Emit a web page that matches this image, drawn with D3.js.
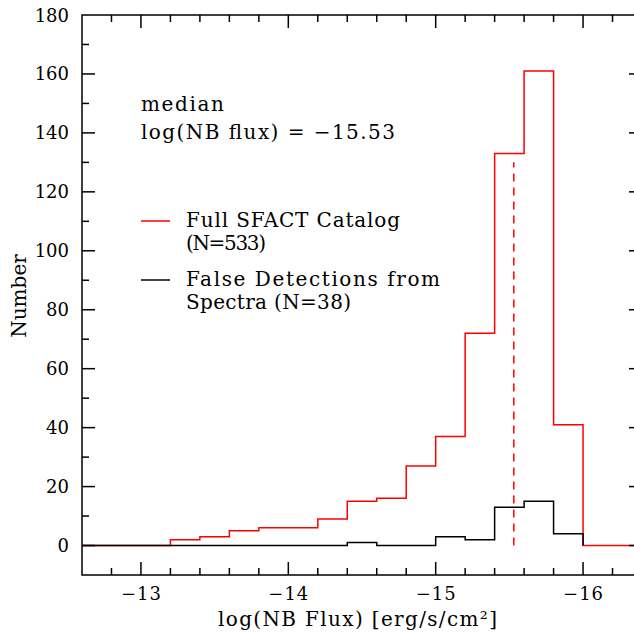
<!DOCTYPE html>
<html>
<head>
<meta charset="utf-8">
<script src="https://cdn.jsdelivr.net/npm/d3@7"></script>
<style>
  html, body { margin: 0; padding: 0; background: #fff; }
  svg { display: block; }
  text { font-family: "DejaVu Serif", "Liberation Serif", serif; fill: #000; }
</style>
</head>
<body>
<svg id="chart" width="634" height="633"></svg>
<script>
// ---- data ----
const binEdges = [-12.6, -12.8, -13.0, -13.2, -13.4, -13.6, -13.8, -14.0, -14.2, -14.4, -14.6, -14.8, -15.0, -15.2, -15.4, -15.6, -15.8, -16.0, -16.2, -16.4];
const fullCatalog = [0, 0, 0, 2, 3, 5, 6, 6, 9, 15, 16, 27, 37, 72, 133, 161, 41, 0, 0];
const falseDetections = [0, 0, 0, 0, 0, 0, 0, 0, 0, 1, 0, 0, 3, 2, 13, 15, 4];
const medianFlux = -15.53;
const medianTop = 130;
const xTicks = [-13, -14, -15, -16];
const yTicks = [0, 20, 40, 60, 80, 100, 120, 140, 160, 180];
const legendLabels = [["Full SFACT Catalog", "(N=533)"], ["False Detections from", "Spectra (N=38)"]];
const seriesColors = ["#ff0000", "#000000"];

// ---- layout ----
const svg = d3.select("#chart");
const mLeft = 82, mRight = 642, mTop = 15, mBottom = 575;
const x = d3.scaleLinear().domain([-12.6, -16.4]).range([mLeft, mRight]);
const y = d3.scaleLinear().domain([-10, 180]).range([mBottom, mTop]);

function stepPath(values) {
  const pts = [];
  pts.push([x(binEdges[0]), y(values[0])]);
  values.forEach((v, i) => {
    pts.push([x(binEdges[i]), y(v)]);
    pts.push([x(binEdges[i + 1]), y(v)]);
  });
  return d3.line()(pts);
}

const plot = svg.append("g");
plot.append("path").attr("d", stepPath(fullCatalog))
  .attr("fill", "none").attr("stroke", seriesColors[0]).attr("stroke-width", 1.5);
plot.append("path").attr("d", stepPath(falseDetections) + "L" + x(binEdges[falseDetections.length]) + "," + y(0))
  .attr("fill", "none").attr("stroke", seriesColors[1]).attr("stroke-width", 1.5);

// median dashed line
plot.append("line")
  .attr("x1", x(medianFlux)).attr("x2", x(medianFlux))
  .attr("y1", y(0)).attr("y2", y(medianTop))
  .attr("stroke", seriesColors[0]).attr("stroke-width", 1.5)
  .attr("stroke-dasharray", "8,6");

// ---- frame & ticks ----
const axG = svg.append("g").attr("stroke", "#000").attr("stroke-width", 1.5);
axG.append("rect").attr("x", mLeft).attr("y", mTop).attr("width", mRight - mLeft).attr("height", mBottom - mTop)
  .attr("fill", "none");

const xMinor = d3.range(1, 19).map(i => -12.6 - 0.2 * i);
xMinor.forEach(v => {
  const isMajor = Math.abs(v - Math.round(v)) < 1e-6;
  const len = isMajor ? 13 : 7;
  axG.append("line").attr("x1", x(v)).attr("x2", x(v)).attr("y1", mBottom).attr("y2", mBottom - len);
  axG.append("line").attr("x1", x(v)).attr("x2", x(v)).attr("y1", mTop).attr("y2", mTop + len);
});
d3.range(0, 18).map(i => 10 * i).forEach(v => {
  const isMajor = v % 20 === 0;
  const len = isMajor ? 13 : 7;
  axG.append("line").attr("x1", mLeft).attr("x2", mLeft + len).attr("y1", y(v)).attr("y2", y(v));
  axG.append("line").attr("x1", mRight).attr("x2", mRight - len).attr("y1", y(v)).attr("y2", y(v));
});

// tick labels
svg.append("g").selectAll("text").data(xTicks).join("text")
  .attr("x", d => x(d) + 0.5).attr("y", 600)
  .attr("text-anchor", "middle").attr("font-size", 18)
  .attr("letter-spacing", 1)
  .text(d => "\u2212" + Math.abs(d));
svg.append("g").selectAll("text").data(yTicks).join("text")
  .attr("x", 69).attr("y", d => y(d) + 6.5)
  .attr("text-anchor", "end").attr("font-size", 18)
  .text(d => d);

// text helper with width fitted to the reference
function label(xp, yp, str, len, size) {
  return svg.append("text").attr("x", xp).attr("y", yp)
    .attr("font-size", size || 20)
    .attr("textLength", len).attr("lengthAdjust", "spacing")
    .text(str);
}

// axis titles
label(218, 626, "log(NB Flux) [erg/s/cm\u00b2]", 279, 20);
svg.append("text").attr("transform", "translate(26,296) rotate(-90)")
  .attr("text-anchor", "middle").attr("font-size", 20)
  .text("Number");

// annotation
label(141, 111, "median", 83);
label(141, 139, "log(NB flux) = \u221215.53", 254);

// legend
const legY = [221, 280];
const legLens = [[214, 80], [254, 165]];
legendLabels.forEach((lines, i) => {
  svg.append("line").attr("x1", 141).attr("x2", 170).attr("y1", legY[i]).attr("y2", legY[i])
    .attr("stroke", seriesColors[i]).attr("stroke-width", 1.5);
  lines.forEach((t, j) => {
    label(186, legY[i] + 6 + j * 23, t, legLens[i][j]);
  });
});
</script>
</body>
</html>
